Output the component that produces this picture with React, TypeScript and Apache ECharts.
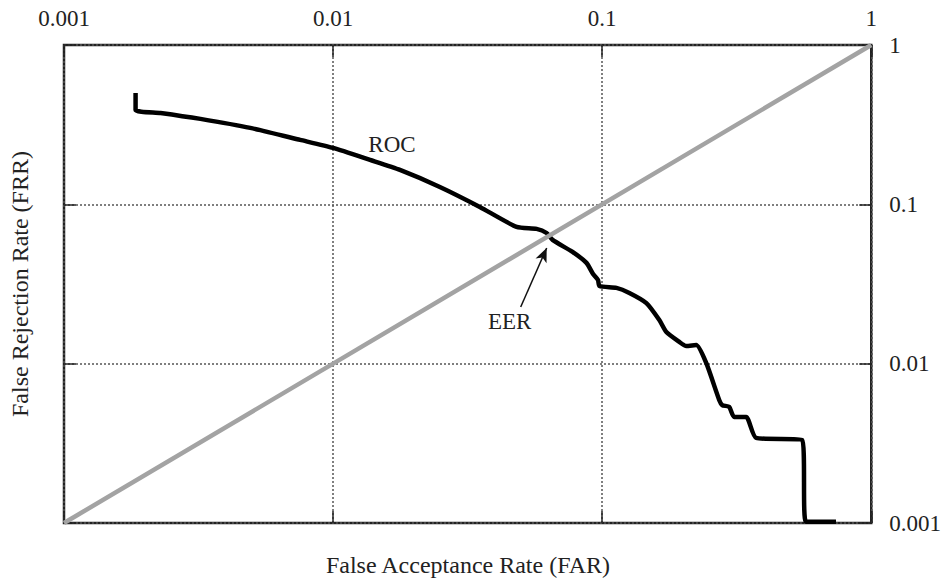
import React, { useEffect, useRef } from "react";
import * as echarts from "echarts";

const xTicks = [0.001, 0.01, 0.1, 1];
const yTicks = [0.001, 0.01, 0.1, 1];

// ROC curve: FAR (x) and FRR (y)
const rocFar = [
  0.001845, 0.001845, 0.002285, 0.003213, 0.004922, 0.007548, 0.01, 0.01372, 0.01772, 0.02493,
  0.0351, 0.04812, 0.05706, 0.06216, 0.06543, 0.0776, 0.08744, 0.0925, 0.0965, 0.0977,
  0.113, 0.1262, 0.146, 0.1631, 0.1732, 0.1935, 0.2054, 0.2237, 0.2436, 0.2722,
  0.2793, 0.2965, 0.3094, 0.3428, 0.3733, 0.553, 0.5722, 0.7395,
];
const rocFrr = [
  0.5, 0.3914, 0.3748, 0.3437, 0.3017, 0.2537, 0.226, 0.19, 0.1644, 0.1285,
  0.0963, 0.0721, 0.0701, 0.0661, 0.0598, 0.0503, 0.0429, 0.0365, 0.0335, 0.0307,
  0.0299, 0.0278, 0.024, 0.0188, 0.0158, 0.0137, 0.0129, 0.0131, 0.0101, 0.00592,
  0.0055, 0.00535, 0.00463, 0.00463, 0.00342, 0.00332, 0.00102, 0.00102,
];

const diagonal = [
  [0.001, 0.001],
  [1, 1],
];

const labelRoc = { text: "ROC", far: 0.01655, frr: 0.236 };
const labelEer = { text: "EER", far: 0.04532, frr: 0.01828 };
const eerArrowTail = [0.0498, 0.0227];
const eerArrowTip = [0.0622, 0.0532];

const FONT = "Liberation Serif, Times New Roman, serif";

const fmt = (v: number) => String(Number(Number(v).toPrecision(6)));

export default function App() {
  const ref = useRef<HTMLDivElement>(null);
  useEffect(() => {
    if (!ref.current) return;
    const chart = echarts.init(ref.current, undefined, { renderer: "svg" });
    const rocData = rocFar.map((x, i) => [x, rocFrr[i]]);
    const grid = { left: 64, right: 72, top: 45, bottom: 56 };
    const tickStyle = { show: true, inside: true, length: 12, lineStyle: { color: "#222", width: 1.5 } };
    const split = { show: true, lineStyle: { color: "#555", width: 1.5, type: [2, 2] as any } };
    chart.setOption({
      animation: false,
      backgroundColor: "#fff",
      grid: { ...grid, show: true, borderColor: "#222", borderWidth: 2.5, backgroundColor: "transparent" },
      xAxis: [
        {
          type: "log",
          logBase: 10,
          min: xTicks[0],
          max: xTicks[xTicks.length - 1],
          position: "top",
          axisLine: { show: false },
          axisTick: tickStyle,
          splitLine: split,
          axisLabel: {
            show: true,
            margin: 15,
            fontFamily: FONT,
            fontSize: 23,
            color: "#222",
            formatter: (v: number) => fmt(v),
          },
        },
        {
          type: "log",
          logBase: 10,
          min: xTicks[0],
          max: xTicks[xTicks.length - 1],
          position: "bottom",
          axisLine: { show: false },
          axisTick: tickStyle,
          splitLine: { show: false },
          axisLabel: { show: false },
        },
      ],
      yAxis: [
        {
          type: "log",
          logBase: 10,
          min: yTicks[0],
          max: yTicks[yTicks.length - 1],
          position: "right",
          axisLine: { show: false },
          axisTick: tickStyle,
          splitLine: split,
          axisLabel: {
            show: true,
            margin: 18,
            fontFamily: FONT,
            fontSize: 23,
            color: "#222",
            formatter: (v: number) => fmt(v),
          },
        },
        {
          type: "log",
          logBase: 10,
          min: yTicks[0],
          max: yTicks[yTicks.length - 1],
          position: "left",
          axisLine: { show: false },
          axisTick: tickStyle,
          splitLine: { show: false },
          axisLabel: { show: false },
        },
      ],
      series: [
        {
          type: "line",
          name: "ROC",
          data: rocData,
          showSymbol: false,
          symbol: "none",
          smooth: 0.2,
          lineStyle: { color: "#000", width: 4.5, join: "miter" },
          z: 2,
          markPoint: {
            symbol: "rect",
            symbolSize: 0,
            data: [
              {
                coord: [labelRoc.far, labelRoc.frr],
                label: { show: true, formatter: labelRoc.text, fontFamily: FONT, fontSize: 23, color: "#222" },
              },
              {
                coord: [labelEer.far, labelEer.frr],
                label: { show: true, formatter: labelEer.text, fontFamily: FONT, fontSize: 23, color: "#222" },
              },
            ],
          },
        },
        {
          type: "line",
          name: "diagonal",
          data: diagonal,
          showSymbol: false,
          symbol: "none",
          lineStyle: { color: "#a3a3a3", width: 4.5 },
          z: 3,
        },
        {
          type: "line",
          name: "arrow",
          data: [],
          z: 4,
          markLine: {
            silent: true,
            symbol: ["none", "arrow"],
            symbolSize: [9, 14],
            label: { show: false },
            lineStyle: { color: "#111", width: 1.5, type: "solid" },
            data: [[{ coord: eerArrowTail }, { coord: eerArrowTip }]],
          },
        },
      ],
      graphic: [
        {
          type: "text",
          x: 468,
          y: 553,
          style: {
            text: "False Acceptance Rate (FAR)",
            font: `24px ${FONT}`,
            fill: "#222",
            align: "center",
            verticalAlign: "top",
          },
        },
        {
          type: "text",
          x: 8,
          y: 284,
          rotation: Math.PI / 2,
          style: {
            text: "False Rejection Rate (FRR)",
            font: `24px ${FONT}`,
            fill: "#222",
            align: "center",
            verticalAlign: "top",
          },
        },
      ],
    });
    return () => chart.dispose();
  }, []);
  return (
    <div
      ref={ref}
      style={{ position: "absolute", left: 0, top: 0, width: 944, height: 579, overflow: "hidden" }}
    />
  );
}
